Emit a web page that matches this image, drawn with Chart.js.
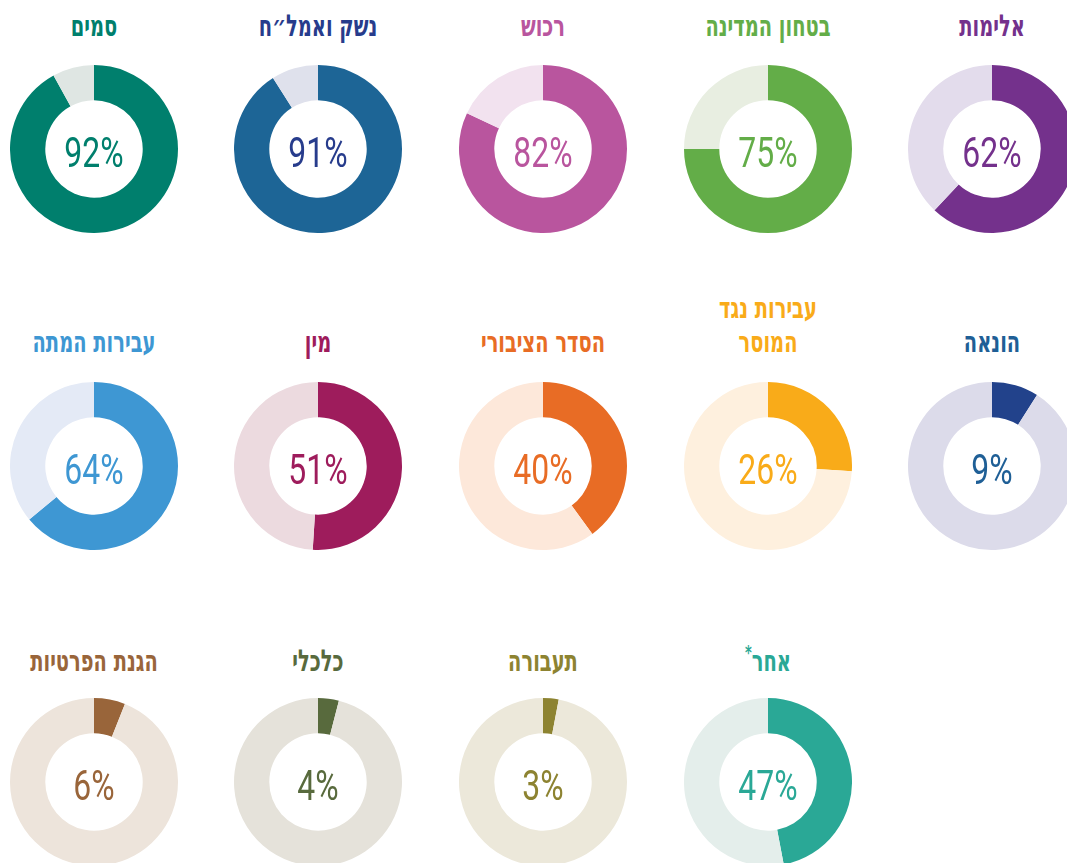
<!DOCTYPE html>
<html lang="he" dir="rtl">
<head>
<meta charset="utf-8">
<script src="https://cdn.jsdelivr.net/npm/chart.js@4"></script>
<style>
  html, body { margin: 0; padding: 0; background: #fff; overflow: hidden; }
  #board { position: relative; width: 1067px; height: 863px; overflow: hidden; }
  .cell { position: absolute; width: 168px; height: 168px; }
  .title {
    position: absolute; width: 280px; text-align: center; direction: rtl;
    font: bold 30px 'DejaVu Sans Condensed', 'DejaVu Sans', sans-serif;
    line-height: 34px; transform: scaleX(0.72); white-space: pre-line;
  }
  .title sup { font-size: 20px; line-height: 0; vertical-align: 12px; }
</style>
</head>
<body>
<div id="board"></div>
<script>
// Share of cases per offence category (percent), right-to-left reading order.
const categories = [
  'אלימות', 'בטחון המדינה', 'רכוש', 'נשק ואמל״ח', 'סמים',
  'הונאה', 'עבירות נגד\nהמוסר', 'הסדר הציבורי', 'מין', 'עבירות המתה',
  'אחר*', 'תעבורה', 'כלכלי', 'הגנת הפרטיות',
];
const shares = [62, 75, 82, 91, 92, 9, 26, 40, 51, 64, 47, 3, 4, 6];
const mainColors = [
  '#74318c', '#63ad48', '#b9559e', '#1d6596', '#007f6d',
  '#22428b', '#f9ab19', '#e86c25', '#9e1c5c', '#3e97d3',
  '#2aa896', '#8d8331', '#586a3d', '#99653a',
];
const restColors = [
  '#e3dcec', '#e8eee1', '#f2e2ef', '#dfe1ec', '#dfe6e3',
  '#dcdbea', '#fef0de', '#fde8da', '#ecdadf', '#e4eaf6',
  '#e4eeeb', '#ece8da', '#e5e2da', '#ede4db',
];
const textColors = [
  '#74318c', '#63ad48', '#b9559e', '#273c8c', '#007f6d',
  '#1f5f96', '#f9ab19', '#e86c25', '#9e1c5c', '#3e97d3',
  '#2aa896', '#8d8331', '#586a3d', '#99653a',
];

// Grid layout: five columns, right to left; the last row starts one slot in.
const SLOTS = [0, 1, 2, 3, 4, 5, 6, 7, 8, 9, 11, 12, 13, 14];
const COL_X = [992, 768, 543, 318, 93.5];
const ROW_Y = [149, 466, 782];
const TITLE_BASE = [37, 353, 672];
const RADIUS = 84;

const centerLabel = {
  id: 'centerLabel',
  afterDraw(chart, args, opts) {
    const arc = chart.getDatasetMeta(0).data[0];
    if (!arc) return;
    const { ctx } = chart;
    ctx.save();
    ctx.font = '400 42px Roboto, "DejaVu Sans", sans-serif';
    ctx.fillStyle = opts.color;
    ctx.textAlign = 'center';
    ctx.textBaseline = 'alphabetic';
    ctx.translate(arc.x, arc.y + 18);
    ctx.scale(0.76, 1);
    ctx.fillText(opts.text, 0, 0);
    ctx.restore();
  },
};

const board = document.getElementById('board');

categories.forEach((name, i) => {
  const slot = SLOTS[i];
  const cx = COL_X[slot % 5];
  const row = Math.floor(slot / 5);
  const cy = ROW_Y[row];

  const title = document.createElement('div');
  title.className = 'title';
  title.style.left = (cx - 140) + 'px';
  title.style.bottom = (863 - TITLE_BASE[row] - 6) + 'px';
  title.style.color = textColors[i];
  if (name.endsWith('*')) {
    title.textContent = name.slice(0, -1);
    const sup = document.createElement('sup');
    sup.textContent = '*';
    title.appendChild(sup);
  } else {
    title.textContent = name;
  }
  board.appendChild(title);

  const cell = document.createElement('div');
  cell.className = 'cell';
  cell.style.left = (cx - RADIUS) + 'px';
  cell.style.top = (cy - RADIUS) + 'px';
  const canvas = document.createElement('canvas');
  canvas.width = RADIUS * 2;
  canvas.height = RADIUS * 2;
  cell.appendChild(canvas);
  board.appendChild(cell);

  new Chart(canvas.getContext('2d'), {
    type: 'doughnut',
    data: {
      labels: [name, ''],
      datasets: [{
        data: [shares[i], 100 - shares[i]],
        backgroundColor: [mainColors[i], restColors[i]],
        borderWidth: 0,
      }],
    },
    options: {
      responsive: false,
      animation: false,
      cutout: '58%',
      layout: { padding: 0 },
      plugins: {
        legend: { display: false },
        tooltip: { enabled: false },
        centerLabel: { text: `${shares[i]}%`, color: textColors[i] },
      },
    },
    plugins: [centerLabel],
  });
});
</script>
</body>
</html>
